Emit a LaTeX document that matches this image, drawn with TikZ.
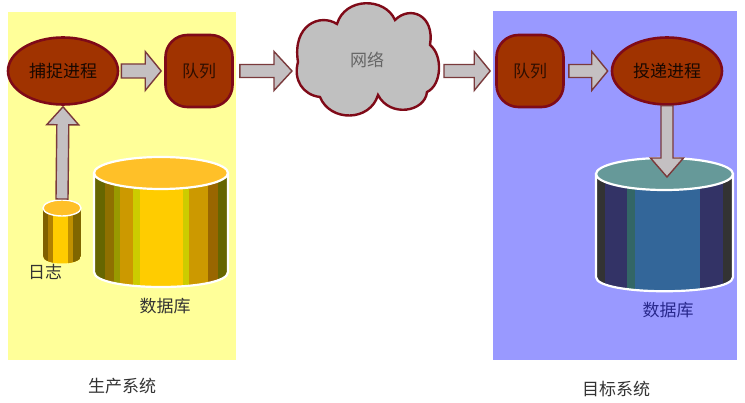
\documentclass[tikz,border=0pt]{standalone}
\usepackage{fontspec}
\setmainfont{Noto Sans CJK SC}
\usetikzlibrary{shapes.geometric,calc}
\definecolor{procfill}{HTML}{A03300}
\definecolor{procline}{HTML}{7F0A18}
\definecolor{arrfill}{HTML}{C4C0C2}
\definecolor{arrline}{HTML}{7A3A3C}
\definecolor{dbrtext}{HTML}{28288C}
\definecolor{cloudtext}{HTML}{666666}
\tikzset{
  x=1pt,y=-1pt,
  lab/.style={font=\fontsize{17}{17}\selectfont,text=#1,inner sep=0pt},
  lab/.default={black!80},
  proc/.style={draw=procline,line width=2.6pt,fill=procfill,ellipse,minimum width=110pt,minimum height=67pt,inner sep=0pt,font=\fontsize{17}{17}\selectfont,text=black!85!procfill},
  queue/.style={draw=procline,line width=2.6pt,fill=procfill,rectangle,rounded corners=22pt,minimum width=67pt,minimum height=72pt,inner sep=0pt,font=\fontsize{17}{17}\selectfont,text=black!70!procfill},
  ghost/.style={inner sep=0pt,minimum width=#1},
  blockarrow/.style={draw=arrline,line width=1.4pt,fill=arrfill,line join=miter},
  cylline/.style={draw=white,line width=2.2pt}
}
\newcommand{\blockarr}[5]{%
  \coordinate (bh) at ($(#2)!#4pt!(#1)$);
  \draw[blockarrow]
    ($(#1)!#3pt!90:(#2)$) -- ($(bh)!#3pt!-90:(#1)$) -- ($(bh)!#5pt!-90:(#1)$) -- (#2)
    -- ($(bh)!#5pt!90:(#1)$) -- ($(bh)!#3pt!90:(#1)$) -- ($(#1)!#3pt!-90:(#2)$) -- cycle;
}
\begin{document}
\begin{tikzpicture}
\useasboundingbox (0,0) rectangle (745,403);
\fill[white] (0,0) rectangle (745,403);
% system panels
\fill[fill={rgb,255:red,255;green,255;blue,153}] (8,12) rectangle (236,360);
\fill[fill={rgb,255:red,153;green,153;blue,255}] (493,11) rectangle (737,360);

% big yellow database
\begin{scope}
  \clip (94,173) -- (94,272) .. controls (94,292) and (228,292) .. (228,272) -- (228,173) -- cycle;
  \fill[fill={rgb,255:red,255;green,204;blue,0}] (94,160) rectangle (228,300);
  \fill[fill={rgb,255:red,102;green,102;blue,0}] (94,160) rectangle (105,300);
  \fill[fill={rgb,255:red,143;green,112;blue,0}] (105,160) rectangle (114,300);
  \fill[fill={rgb,255:red,153;green,153;blue,0}] (114,160) rectangle (120,300);
  \fill[fill={rgb,255:red,204;green,153;blue,0}] (120,160) rectangle (133,300);
  \fill[fill={rgb,255:red,204;green,204;blue,0}] (133,160) rectangle (140,300);
  \fill[fill={rgb,255:red,204;green,204;blue,0}] (183,160) rectangle (189,300);
  \fill[fill={rgb,255:red,204;green,153;blue,0}] (189,160) rectangle (208,300);
  \fill[fill={rgb,255:red,153;green,102;blue,0}] (208,160) rectangle (218,300);
  \fill[fill={rgb,255:red,102;green,102;blue,0}] (218,160) rectangle (228,300);
\end{scope}
\draw[cylline] (94,173) -- (94,272) .. controls (94,292) and (228,292) .. (228,272) -- (228,173);
\draw[cylline,fill={rgb,255:red,255;green,192;blue,40}] (161,173) ellipse [x radius=67,y radius=16];

% small yellow log cylinder
\begin{scope}
  \clip (43,208) -- (43,256) .. controls (43,266) and (81,266) .. (81,256) -- (81,208) -- cycle;
  \fill[fill={rgb,255:red,255;green,204;blue,0}] (43,200) rectangle (81,270);
  \fill[fill={rgb,255:red,128;green,96;blue,0}] (43,200) rectangle (48,270);
  \fill[fill={rgb,255:red,176;green,128;blue,0}] (48,200) rectangle (53,270);
  \fill[fill={rgb,255:red,192;green,144;blue,0}] (68,200) rectangle (73,270);
  \fill[fill={rgb,255:red,128;green,102;blue,0}] (73,200) rectangle (81,270);
\end{scope}
\draw[draw=white,line width=1.4pt,fill={rgb,255:red,255;green,192;blue,40}] (62,208) ellipse [x radius=19,y radius=8];

% blue database
\begin{scope}
  \clip (596,173) -- (596,277) .. controls (596,296) and (733,296) .. (733,277) -- (733,173) -- cycle;
  \fill[fill={rgb,255:red,51;green,102;blue,153}] (596,160) rectangle (733,300);
  \fill[fill={rgb,255:red,51;green,51;blue,51}] (596,160) rectangle (605,300);
  \fill[fill={rgb,255:red,51;green,51;blue,102}] (605,160) rectangle (627,300);
  \fill[fill={rgb,255:red,51;green,102;blue,102}] (627,160) rectangle (635,300);
  \fill[fill={rgb,255:red,51;green,51;blue,102}] (700,160) rectangle (723,300);
  \fill[fill={rgb,255:red,51;green,51;blue,51}] (723,160) rectangle (733,300);
\end{scope}
\draw[cylline] (596,173) -- (596,277) .. controls (596,296) and (733,296) .. (733,277) -- (733,173);
\draw[cylline,fill={rgb,255:red,102;green,153;blue,153}] (664.5,174) ellipse [x radius=68.5,y radius=16];

% cloud
\draw[draw=procline,line width=2.4pt,fill={rgb,255:red,192;green,192;blue,192}]
  (298,62) .. controls (292,25) and (320,13) .. (337,24)
  .. controls (345,-3) and (385,-3) .. (395,20)
  .. controls (410,5) and (435,15) .. (430,45)
  .. controls (443,55) and (442,85) .. (427,92)
  .. controls (425,112) and (390,118) .. (378,95)
  .. controls (370,122) and (330,122) .. (320,97)
  .. controls (303,95) and (293,80) .. (298,62) -- cycle;

% nodes
\node[proc] (cap) at (63,71) {捕捉进程};
\node[queue] (q1) at (199,71) {队列};
\node[lab=cloudtext] (net) at (367,60) {网络};
\node[queue] (q2) at (530,71) {队列};
\node[proc] (del) at (667,71) {投递进程};
\node[ghost=38pt] (log) at (62,208) {};
\node[ghost=1pt] (dbrtip) at (667,177) {};
\node[lab] (loglab) at (45,272) {日志};
\node[lab] (dblab) at (165,306) {数据库};
\node[lab=dbrtext] (dbrlab) at (668,310) {数据库};
\node[lab] (prodlab) at (122,386) {生产系统};
\node[lab] (tgtlab) at (616,389) {目标系统};

% connector ends
\coordinate (a1s) at ([xshift=2pt]cap.east);
\coordinate (a1e) at ([xshift=-3pt]q1.west);
\coordinate (a2s) at ([xshift=6pt]q1.east);
\coordinate (a2e) at (292,71);
\coordinate (a3s) at (444,71);
\coordinate (a3e) at ([xshift=-5pt]q2.west);
\coordinate (a4s) at ([xshift=4pt]q2.east);
\coordinate (a5e) at ([xshift=-3pt]del.west);
\coordinate (a6s) at (del.south);
\coordinate (a6e) at (dbrtip.center);
\coordinate (a7s) at ([yshift=9pt]log.center);
\coordinate (a7e) at ([yshift=-1pt]cap.south);

% connectors
\blockarr{a1s}{a1e}{7}{16}{19.5}
\blockarr{a2s}{a2e}{6.5}{18}{19.5}
\blockarr{a3s}{a3e}{6.5}{16}{19.5}
\blockarr{a4s}{a5e}{6.5}{16}{19.5}
\blockarr{a7s}{a7e}{6}{18}{16}
\blockarr{a6s}{a6e}{6}{19}{16.5}
\end{tikzpicture}
\end{document}
